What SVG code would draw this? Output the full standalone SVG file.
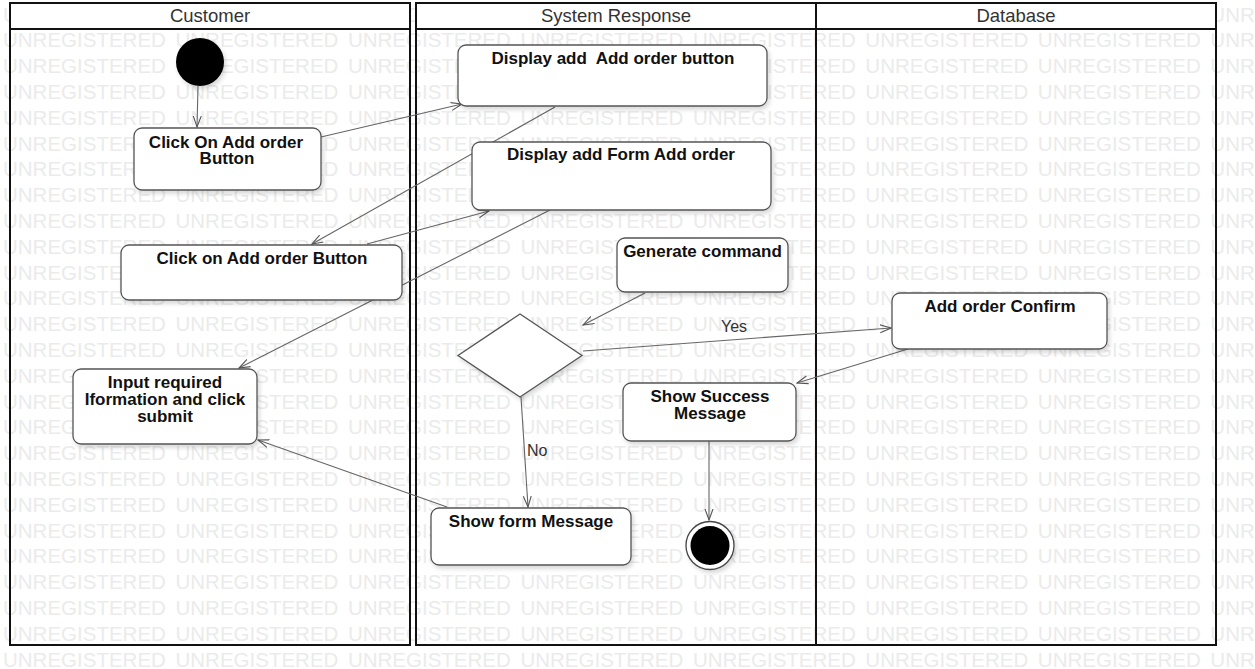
<svg xmlns="http://www.w3.org/2000/svg" width="1255" height="669" viewBox="0 0 1255 669">
<style>
.wm{font-family:"Liberation Sans",Arial,sans-serif;font-size:20.5px;word-spacing:3.9px;fill:#ebebeb}
.lane{fill:none;stroke:#111;stroke-width:2}
.hdr{fill:#fff;stroke:#111;stroke-width:2}
.ht{font-family:"Liberation Sans",Arial,sans-serif;font-size:18.5px;fill:#333;text-anchor:middle}
.box{fill:#fff;stroke:#555;stroke-width:1.3}
.nt{font-family:"Liberation Sans",Arial,sans-serif;font-size:17px;font-weight:bold;fill:#111;text-anchor:middle}
.edge{stroke:#666;stroke-width:1.1;fill:none;marker-end:url(#arr)}
.lbl{font-family:"Liberation Sans",Arial,sans-serif;font-size:16px;fill:#333}
</style>
<defs>
<marker id="arr" viewBox="0 0 12 10" refX="11" refY="5" markerWidth="12" markerHeight="10" markerUnits="userSpaceOnUse" orient="auto">
<path d="M0,1 L11,5 L0,9" fill="none" stroke="#555" stroke-width="1.1"/>
</marker>
<filter id="sh" x="-10%" y="-10%" width="130%" height="140%">
<feDropShadow dx="2" dy="3" stdDeviation="2" flood-color="#000" flood-opacity="0.15"/>
</filter>
</defs>
<rect width="1255" height="669" fill="#fff"/>
<g id="watermark">
<text class="wm" x="3" y="21.5">UNREGISTERED UNREGISTERED UNREGISTERED UNREGISTERED UNREGISTERED UNREGISTERED UNREGISTERED UNREGISTERED</text>
<text class="wm" x="3" y="47.3">UNREGISTERED UNREGISTERED UNREGISTERED UNREGISTERED UNREGISTERED UNREGISTERED UNREGISTERED UNREGISTERED</text>
<text class="wm" x="3" y="73.1">UNREGISTERED UNREGISTERED UNREGISTERED UNREGISTERED UNREGISTERED UNREGISTERED UNREGISTERED UNREGISTERED</text>
<text class="wm" x="3" y="98.9">UNREGISTERED UNREGISTERED UNREGISTERED UNREGISTERED UNREGISTERED UNREGISTERED UNREGISTERED UNREGISTERED</text>
<text class="wm" x="3" y="124.7">UNREGISTERED UNREGISTERED UNREGISTERED UNREGISTERED UNREGISTERED UNREGISTERED UNREGISTERED UNREGISTERED</text>
<text class="wm" x="3" y="150.5">UNREGISTERED UNREGISTERED UNREGISTERED UNREGISTERED UNREGISTERED UNREGISTERED UNREGISTERED UNREGISTERED</text>
<text class="wm" x="3" y="176.3">UNREGISTERED UNREGISTERED UNREGISTERED UNREGISTERED UNREGISTERED UNREGISTERED UNREGISTERED UNREGISTERED</text>
<text class="wm" x="3" y="202.1">UNREGISTERED UNREGISTERED UNREGISTERED UNREGISTERED UNREGISTERED UNREGISTERED UNREGISTERED UNREGISTERED</text>
<text class="wm" x="3" y="227.9">UNREGISTERED UNREGISTERED UNREGISTERED UNREGISTERED UNREGISTERED UNREGISTERED UNREGISTERED UNREGISTERED</text>
<text class="wm" x="3" y="253.7">UNREGISTERED UNREGISTERED UNREGISTERED UNREGISTERED UNREGISTERED UNREGISTERED UNREGISTERED UNREGISTERED</text>
<text class="wm" x="3" y="279.5">UNREGISTERED UNREGISTERED UNREGISTERED UNREGISTERED UNREGISTERED UNREGISTERED UNREGISTERED UNREGISTERED</text>
<text class="wm" x="3" y="305.3">UNREGISTERED UNREGISTERED UNREGISTERED UNREGISTERED UNREGISTERED UNREGISTERED UNREGISTERED UNREGISTERED</text>
<text class="wm" x="3" y="331.1">UNREGISTERED UNREGISTERED UNREGISTERED UNREGISTERED UNREGISTERED UNREGISTERED UNREGISTERED UNREGISTERED</text>
<text class="wm" x="3" y="356.9">UNREGISTERED UNREGISTERED UNREGISTERED UNREGISTERED UNREGISTERED UNREGISTERED UNREGISTERED UNREGISTERED</text>
<text class="wm" x="3" y="382.7">UNREGISTERED UNREGISTERED UNREGISTERED UNREGISTERED UNREGISTERED UNREGISTERED UNREGISTERED UNREGISTERED</text>
<text class="wm" x="3" y="408.5">UNREGISTERED UNREGISTERED UNREGISTERED UNREGISTERED UNREGISTERED UNREGISTERED UNREGISTERED UNREGISTERED</text>
<text class="wm" x="3" y="434.3">UNREGISTERED UNREGISTERED UNREGISTERED UNREGISTERED UNREGISTERED UNREGISTERED UNREGISTERED UNREGISTERED</text>
<text class="wm" x="3" y="460.1">UNREGISTERED UNREGISTERED UNREGISTERED UNREGISTERED UNREGISTERED UNREGISTERED UNREGISTERED UNREGISTERED</text>
<text class="wm" x="3" y="485.9">UNREGISTERED UNREGISTERED UNREGISTERED UNREGISTERED UNREGISTERED UNREGISTERED UNREGISTERED UNREGISTERED</text>
<text class="wm" x="3" y="511.7">UNREGISTERED UNREGISTERED UNREGISTERED UNREGISTERED UNREGISTERED UNREGISTERED UNREGISTERED UNREGISTERED</text>
<text class="wm" x="3" y="537.5">UNREGISTERED UNREGISTERED UNREGISTERED UNREGISTERED UNREGISTERED UNREGISTERED UNREGISTERED UNREGISTERED</text>
<text class="wm" x="3" y="563.3">UNREGISTERED UNREGISTERED UNREGISTERED UNREGISTERED UNREGISTERED UNREGISTERED UNREGISTERED UNREGISTERED</text>
<text class="wm" x="3" y="589.1">UNREGISTERED UNREGISTERED UNREGISTERED UNREGISTERED UNREGISTERED UNREGISTERED UNREGISTERED UNREGISTERED</text>
<text class="wm" x="3" y="614.9">UNREGISTERED UNREGISTERED UNREGISTERED UNREGISTERED UNREGISTERED UNREGISTERED UNREGISTERED UNREGISTERED</text>
<text class="wm" x="3" y="640.7">UNREGISTERED UNREGISTERED UNREGISTERED UNREGISTERED UNREGISTERED UNREGISTERED UNREGISTERED UNREGISTERED</text>
<text class="wm" x="3" y="666.5">UNREGISTERED UNREGISTERED UNREGISTERED UNREGISTERED UNREGISTERED UNREGISTERED UNREGISTERED UNREGISTERED</text>
</g>
<g id="lane-customer">
<rect class="lane" x="10" y="3" width="400" height="642"/>
<rect class="hdr" x="10" y="3" width="400" height="26"/>
<text class="ht" x="210" y="22">Customer</text>
</g>
<g id="lane-system">
<rect class="lane" x="416" y="3" width="400" height="642"/>
<rect class="hdr" x="416" y="3" width="400" height="26"/>
<text class="ht" x="616" y="22">System Response</text>
</g>
<g id="lane-database">
<rect class="lane" x="816" y="3" width="400" height="642"/>
<rect class="hdr" x="816" y="3" width="400" height="26"/>
<text class="ht" x="1016" y="22">Database</text>
</g>
<g id="connectors">
<line class="edge" x1="198" y1="86" x2="197" y2="127"/>
<line class="edge" x1="321" y1="137" x2="462" y2="104"/>
<line class="edge" x1="555" y1="107" x2="312" y2="244"/>
<line class="edge" x1="367" y1="244" x2="489" y2="211"/>
<line class="edge" x1="550" y1="210" x2="239" y2="368"/>
<line class="edge" x1="645" y1="293" x2="583" y2="325"/>
<line class="edge" x1="583" y1="351" x2="891" y2="328"/>
<line class="edge" x1="908" y1="349" x2="797" y2="383"/>
<line class="edge" x1="521" y1="397" x2="528" y2="507"/>
<line class="edge" x1="447" y1="507" x2="258" y2="440"/>
<line class="edge" x1="709" y1="441" x2="709" y2="520"/>
<text class="lbl" x="721" y="332">Yes</text>
<text class="lbl" x="527" y="456">No</text>
</g>
<g id="start">
<circle cx="200" cy="62" r="24" fill="#000" filter="url(#sh)"/>
</g>
<g id="n-click-on-add-order-1">
<rect class="box" x="134" y="128" width="187" height="62" rx="8" filter="url(#sh)"/>
<text class="nt" x="226" y="148">Click On Add order</text>
<text class="nt" x="227" y="164">Button</text>
</g>
<g id="n-display-add-button">
<rect class="box" x="458" y="45" width="309" height="61" rx="8" filter="url(#sh)"/>
<text class="nt" x="613" y="64" xml:space="preserve">Display add  Add order button</text>
</g>
<g id="n-display-add-form">
<rect class="box" x="472" y="142" width="299" height="68" rx="8" filter="url(#sh)"/>
<text class="nt" x="621" y="160">Display add Form Add order</text>
</g>
<g id="n-click-on-add-order-2">
<rect class="box" x="121" y="245" width="281" height="55" rx="8" filter="url(#sh)"/>
<text class="nt" x="262" y="264">Click on Add order Button</text>
</g>
<g id="n-input-required">
<rect class="box" x="73" y="369" width="184" height="75" rx="8" filter="url(#sh)"/>
<text class="nt" x="165" y="388">Input required</text>
<text class="nt" x="165" y="405">Iformation and click</text>
<text class="nt" x="165" y="422">submit</text>
</g>
<g id="n-generate-command">
<rect class="box" x="617" y="238" width="171" height="54" rx="8" filter="url(#sh)"/>
<text class="nt" x="702.5" y="257">Generate command</text>
</g>
<g id="n-decision">
<polygon class="box" points="520,314 582,355.5 520,397 458,355.5" filter="url(#sh)"/>
</g>
<g id="n-add-order-confirm">
<rect class="box" x="892" y="293" width="215" height="56" rx="8" filter="url(#sh)"/>
<text class="nt" x="1000" y="312">Add order Confirm</text>
</g>
<g id="n-show-success">
<rect class="box" x="623" y="383" width="173" height="58" rx="8" filter="url(#sh)"/>
<text class="nt" x="710" y="402">Show Success</text>
<text class="nt" x="710" y="419">Message</text>
</g>
<g id="n-show-form-message">
<rect class="box" x="431" y="508" width="200" height="57" rx="8" filter="url(#sh)"/>
<text class="nt" x="531" y="527">Show form Message</text>
</g>
<g id="end">
<circle cx="710" cy="545.5" r="24" fill="#fff" stroke="#444" stroke-width="1.3" filter="url(#sh)"/>
<circle cx="710" cy="545.5" r="19.5" fill="#000"/>
</g>
</svg>
